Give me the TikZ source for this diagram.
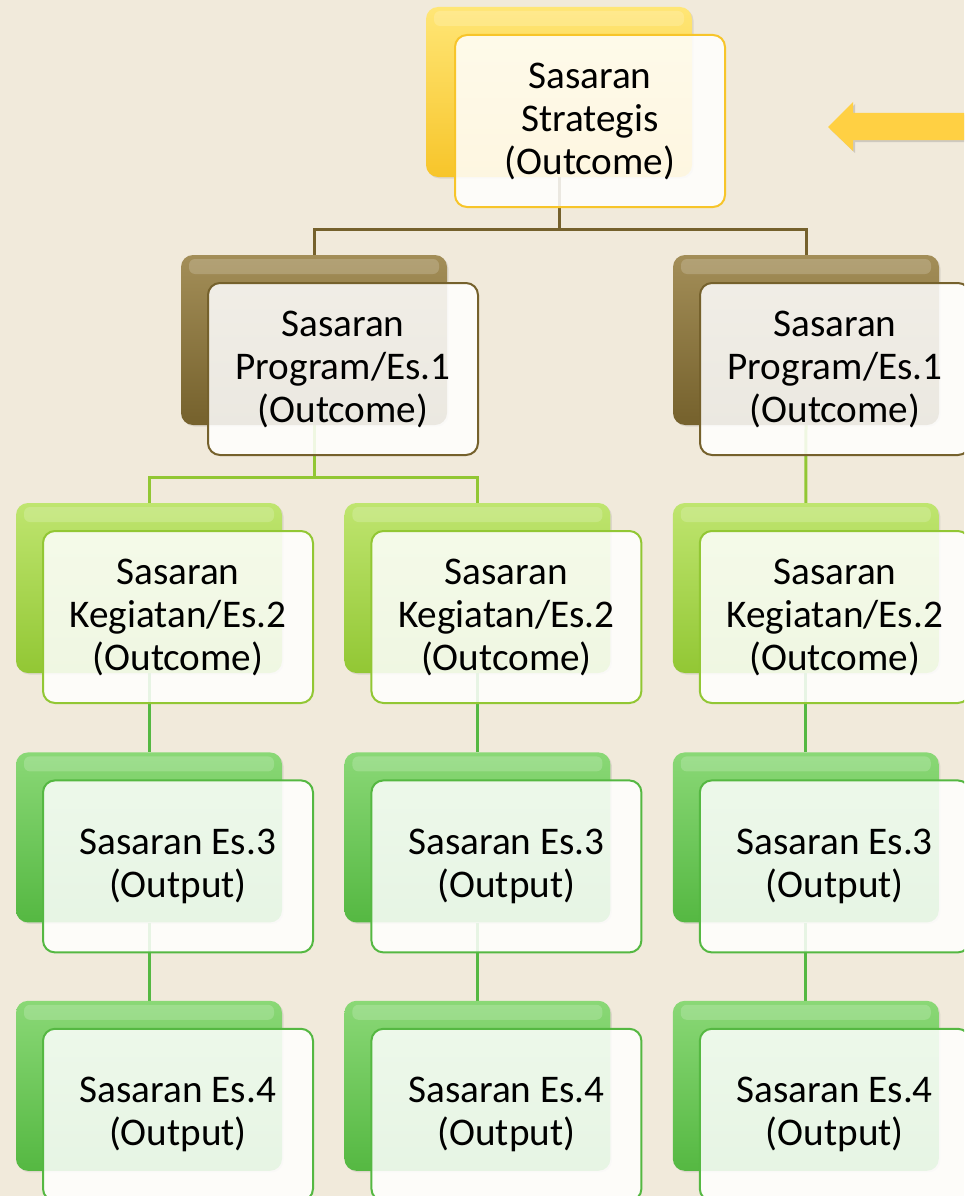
\documentclass[tikz,border=0pt]{standalone}
\usepackage{fontspec}
\setmainfont{Carlito}
\usetikzlibrary{positioning,backgrounds,shadows}
\definecolor{parchment}{HTML}{F1EADB}
\definecolor{gold}{HTML}{F7C52A}
\definecolor{goldlight}{HTML}{FFE676}
\definecolor{olive}{HTML}{75612C}
\definecolor{olivelight}{HTML}{A38E58}
\definecolor{lime}{HTML}{92C734}
\definecolor{limelight}{HTML}{BFE56F}
\definecolor{leaf}{HTML}{55B842}
\definecolor{leaflight}{HTML}{8AD876}
\definecolor{pointer}{HTML}{FFD043}

\begin{document}
\begin{tikzpicture}[x=1pt, y=1pt,
    back/.style={rounded corners=12pt, minimum width=266pt, minimum height=170pt,
                 drop shadow={opacity=0.18, shadow xshift=1.5pt, shadow yshift=-1.5pt},
                 path picture={\fill[white, opacity=0.18, rounded corners=6pt]
                   ([xshift=8pt, yshift=-4pt]path picture bounding box.north west) rectangle
                   ([xshift=-8pt, yshift=-19pt]path picture bounding box.north east);}},
    goldbox/.style={back, top color=goldlight, bottom color=gold},
    olivebox/.style={back, top color=olivelight, bottom color=olive},
    limebox/.style={back, top color=limelight, bottom color=lime},
    leafbox/.style={back, top color=leaflight, bottom color=leaf},
    front/.style={draw=#1, line width=2pt, rounded corners=12pt, fill=white,
                  fill opacity=0.86, text opacity=1, minimum width=270pt, minimum height=172pt,
                  align=center, font=\fontsize{39.2}{43}\selectfont},
    link/.style={line width=3pt}
  ]
  \useasboundingbox (0,0) rectangle (964,-1196);
  \begin{scope}[on background layer]
    \fill[parchment] (0,0) rectangle (964,-1196);
  \end{scope}
  \clip (0,0) rectangle (964,-1196);

  % back boxes
  \node[goldbox] (b0) at (559,-92) {};
  \node[olivebox] (p1) at (314,-340) {};
  \node[olivebox] (p2) at (806,-340) {};
  \node[limebox] (k1) at (149,-588) {};
  \node[limebox, right=62pt of k1] (k2) {};
  \node[limebox, right=62pt of k2] (k3) {};
  \foreach \i in {1,2,3} {
    \node[leafbox, below=79pt of k\i] (e3\i) {};
    \node[leafbox, below=78pt of e3\i] (e4\i) {};
  }

  % front boxes
  \node[front=gold] (fb0) at ([shift={(31pt,-29pt)}]b0.center) {Sasaran\\Strategis\\(Outcome)};
  \foreach \i in {1,2} {
    \node[front=olive] (fp\i) at ([shift={(29pt,-29pt)}]p\i.center) {Sasaran\\Program/Es.1\\(Outcome)};
  }
  \foreach \i in {1,2,3} {
    \node[front=lime] (fk\i) at ([shift={(29pt,-29pt)}]k\i.center) {Sasaran\\Kegiatan/Es.2\\(Outcome)};
    \node[front=leaf] (fe3\i) at ([shift={(29pt,-29pt)}]e3\i.center) {Sasaran Es.3\\(Output)};
    \node[front=leaf] (fe4\i) at ([shift={(29pt,-29pt)}]e4\i.center) {Sasaran Es.4\\(Output)};
  }

  % connectors
  \begin{scope}[on background layer]
    \draw[link, olive] (b0.south) -- ++(0,-52pt) -| (p1.north);
    \draw[link, olive] (b0.south) -- ++(0,-52pt) -| (p2.north);
    \draw[link, lime] (p1.south) -- ++(0,-52pt) -| (k1.north);
    \draw[link, lime] (p1.south) -- ++(0,-52pt) -| (k2.north);
    \draw[link, lime] (p2.south) -- (k3.north);
    \foreach \i in {1,2,3} {
      \draw[link, leaf] (k\i.south) -- (e3\i.north);
      \draw[link, leaf] (e3\i.south) -- (e4\i.north);
    }
  \end{scope}

  % pointer arrow
  \coordinate (tip) at (828,-127);
  \fill[pointer, drop shadow={opacity=0.3, shadow xshift=2pt, shadow yshift=-2pt}]
    (tip) -- ++(25,25) -- ++(0,-11) -- ++(130,0) -- ++(0,-27) -- ++(-130,0) -- ++(0,-11) -- cycle;
\end{tikzpicture}
\end{document}
